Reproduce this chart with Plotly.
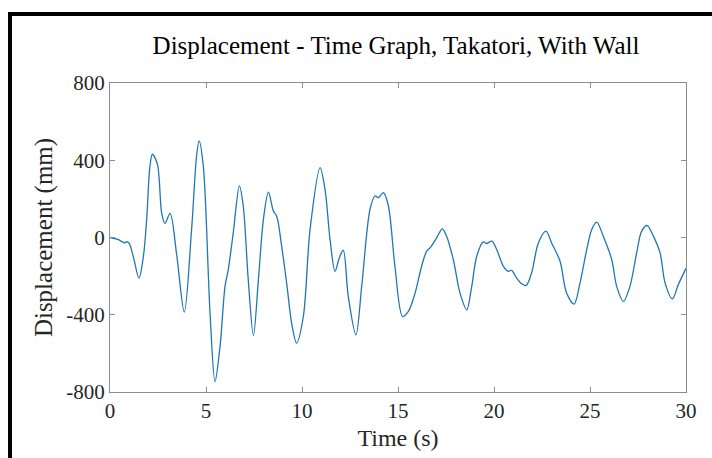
import plotly.graph_objects as go

title_text = "Displacement - Time Graph, Takatori, With Wall"
x_label = "Time (s)"
y_label = "Displacement (mm)"
x_ticks = [0, 5, 10, 15, 20, 25, 30]
y_ticks = [-800, -400, 0, 400, 800]

time_s = [0, 0.4, 0.78, 0.87, 1.0, 1.21, 1.51, 1.74, 1.91, 2.08, 2.21, 2.47, 2.69, 2.86, 3.13,
          3.47, 3.87, 4.25, 4.51, 4.64, 4.86, 5.21, 5.47, 5.73, 5.99, 6.16, 6.42, 6.74, 6.94,
          7.2, 7.47, 7.73, 7.99, 8.25, 8.51, 8.68, 8.94, 9.2, 9.46, 9.72, 10.07, 10.42, 10.94,
          11.2, 11.46, 11.72, 11.94, 12.15, 12.41, 12.81, 13.11, 13.54, 13.8, 13.98, 14.24,
          14.5, 14.84, 15.24, 15.54, 15.89, 16.23, 16.49, 16.67, 17.01, 17.31, 17.53, 17.88,
          18.23, 18.58, 18.84, 19.1, 19.44, 19.62, 19.88, 20.14, 20.49, 20.75, 20.92, 21.18,
          21.44, 21.67, 21.96, 22.31, 22.71, 23.0, 23.44, 23.78, 24.17, 24.48, 24.83, 25.09,
          25.35, 25.69, 26.13, 26.39, 26.74, 27.08, 27.43, 27.69, 27.98, 28.3, 28.65, 28.91,
          29.29, 29.6, 30.0]
displacement_mm = [0, -10, -28, -22, -30, -97, -210, -97, 94, 370, 431, 379, 128, 73, 125,
                   -88, -386, 42, 422, 500, 370, -391, -746, -565, -253, -166, 24, 267, 163,
                   -218, -507, -218, 94, 235, 137, 111, -45, -235, -443, -547, -409, 42, 362,
                   249, -10, -175, -106, -66, -305, -504, -253, 145, 215, 206, 232,
                   163, -149, -409, -383, -288, -149, -71, -54, -2, 45, 7, -114,
                   -288, -374, -253, -97, -23, -31, -19, -62, -149, -175, -170, -210,
                   -239, -249, -183, -28, 33, -28, -123, -288, -345, -235, -62, 42,
                   80, 7, -114, -253, -331, -253, -80, 33, 62, 7, -80, -235,
                   -318, -244, -160]
assert len(time_s) == len(displacement_mm)

FONT = "Liberation Serif"
AX = "#8c8c8c"
TXT = "#262626"

fig = go.Figure(go.Scatter(
    x=time_s, y=displacement_mm, mode="lines",
    line=dict(color="#1f77b4", width=1.3, shape="spline", smoothing=0.9),
    hoverinfo="skip", showlegend=False))

axis_common = dict(showline=True, linecolor=AX, linewidth=1, mirror="ticks",
                   ticks="inside", ticklen=5, tickcolor=AX, tickwidth=1,
                   showgrid=False, zeroline=False,
                   tickfont=dict(family=FONT, size=21, color=TXT))

fig.update_xaxes(range=[0, 30], tickvals=x_ticks, ticktext=[str(v) for v in x_ticks],
                 title=dict(text=x_label, font=dict(family=FONT, size=24, color=TXT), standoff=6),
                 **axis_common)
fig.update_yaxes(range=[-800, 800], tickvals=y_ticks, ticktext=[str(v) for v in y_ticks],
                 title=dict(text=y_label, font=dict(family=FONT, size=25, color=TXT), standoff=6),
                 **axis_common)

fig.update_layout(
    width=712, height=458,
    margin=dict(l=110, r=26, t=83, b=66),
    paper_bgcolor="white", plot_bgcolor="white",
    title=dict(text=title_text, x=396 / 712, xanchor="center",
               y=1 - 45 / 458, yanchor="middle",
               font=dict(family=FONT, size=25, color="#000000")),
    shapes=[
        dict(type="line", xref="paper", yref="paper", x0=(10 - 110) / 576, x1=2,
             y0=(392 - 14) / 309, y1=(392 - 14) / 309, line=dict(color="black", width=4)),
        dict(type="line", xref="paper", yref="paper", x0=(10 - 110) / 576, x1=(10 - 110) / 576,
             y0=(392 - 12) / 309, y1=-1, line=dict(color="black", width=4)),
    ],
)

fig.write_html("out.html", config={"displayModeBar": False},
               post_script="document.body.style.margin='0';document.body.style.overflow='hidden';")
